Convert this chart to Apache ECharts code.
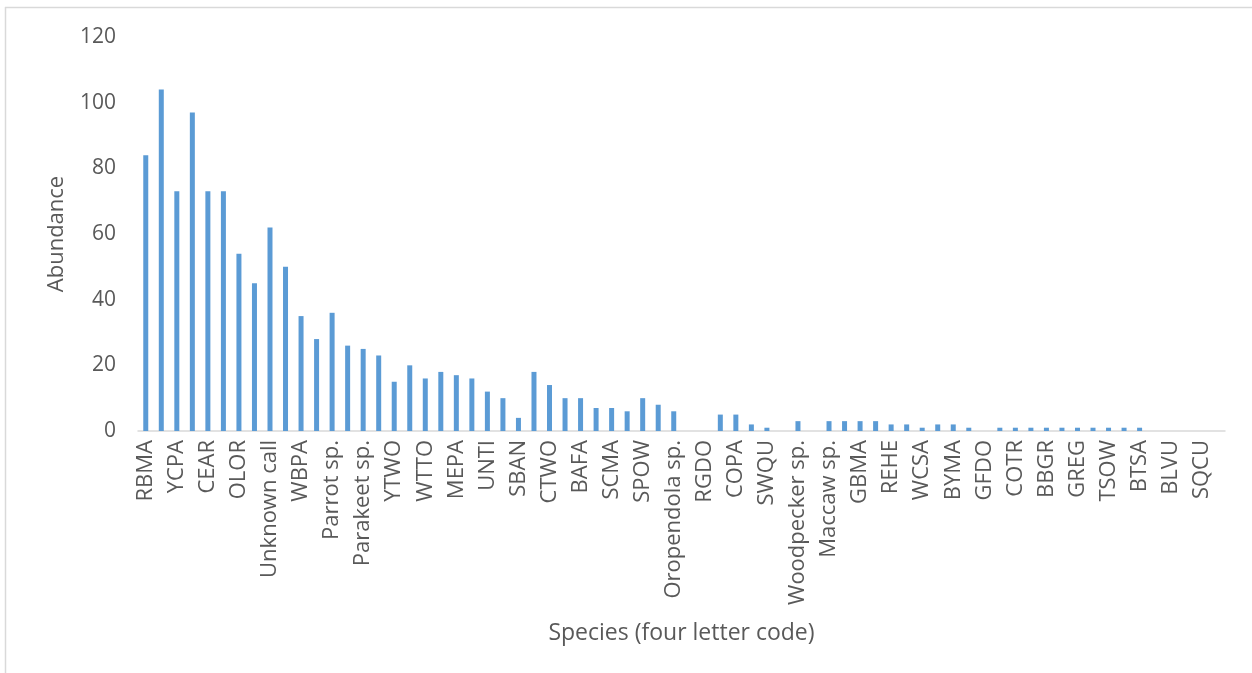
<!DOCTYPE html>
<html>
<head>
<meta charset="utf-8">
<script src="https://cdn.jsdelivr.net/npm/echarts@6/dist/echarts.min.js"></script>
<style>
  html, body { margin: 0; padding: 0; background: #ffffff; }
  #chart { width: 1252px; height: 673px; }
</style>
</head>
<body>
<div id="chart"></div>
<script>
// Labelled species (every other category carries a label in the reference)
const labelledSpecies = [
  "RBMA", "YCPA", "CEAR", "OLOR", "Unknown call", "WBPA", "Parrot sp.",
  "Parakeet sp.", "YTWO", "WTTO", "MEPA", "UNTI", "SBAN", "CTWO", "BAFA",
  "SCMA", "SPOW", "Oropendola sp.", "RGDO", "COPA", "SWQU", "Woodpecker sp.",
  "Maccaw sp.", "GBMA", "REHE", "WCSA", "BYMA", "GFDO", "COTR", "BBGR",
  "GREG", "TSOW", "BTSA", "BLVU", "SQCU"
];

// Abundance for each of the 70 categories
const abundance = [
  84, 104, 73, 97, 73, 73, 54, 45, 62, 50,
  35, 28, 36, 26, 25, 23, 15, 20, 16, 18,
  17, 16, 12, 10, 4, 18, 14, 10, 10, 7,
  7, 6, 10, 8, 6, 0, 0, 5, 5, 2,
  1, 0, 3, 0, 3, 3, 3, 3, 2, 2,
  1, 2, 2, 1, 0, 1, 1, 1, 1, 1,
  1, 1, 1, 1, 1, 0, 0, 0, 0, 0
];

const yTicks = [0, 20, 40, 60, 80, 100, 120];

const categories = abundance.map((v, i) => (i % 2 === 0 ? labelledSpecies[i / 2] : ""));

const FONT = "Open Sans";
const TEXT = "#595959";

const chart = echarts.init(document.getElementById("chart"), null, { renderer: "canvas" });
chart.setOption({
  backgroundColor: "#ffffff",
  animation: false,
  graphic: [
    { type: "line", silent: true, shape: { x1: 5, y1: 7.5, x2: 1252, y2: 7.5 }, style: { stroke: "#d9d9d9", lineWidth: 1.5 } },
    { type: "line", silent: true, shape: { x1: 5.5, y1: 7, x2: 5.5, y2: 673 }, style: { stroke: "#d9d9d9", lineWidth: 1.5 } }
  ],
  grid: { left: 138, right: 27, top: 37, bottom: 242 },
  xAxis: {
    type: "category",
    data: categories,
    boundaryGap: true,
    name: "Species (four letter code)",
    nameLocation: "middle",
    nameGap: 191,
    nameTextStyle: { fontFamily: FONT, fontSize: 23, color: TEXT },
    axisLine: { show: true, lineStyle: { color: "#d9d9d9", width: 1.5 } },
    axisTick: { show: false },
    axisLabel: {
      interval: 1,
      rotate: 90,
      margin: 9,
      fontFamily: FONT,
      fontSize: 22,
      color: TEXT
    },
    splitLine: { show: false }
  },
  yAxis: {
    type: "value",
    min: yTicks[0],
    max: yTicks[yTicks.length - 1],
    interval: yTicks[1] - yTicks[0],
    name: "Abundance",
    nameLocation: "middle",
    nameGap: 70,
    nameRotate: 90,
    nameTextStyle: { fontFamily: FONT, fontSize: 22, color: TEXT },
    axisLine: { show: false },
    axisTick: { show: false },
    splitLine: { show: false },
    axisLabel: { margin: 22, fontFamily: FONT, fontSize: 21, color: TEXT }
  },
  series: [{
    type: "bar",
    data: abundance,
    barWidth: 5,
    itemStyle: { color: "#5b9bd5" }
  }]
});
</script>
</body>
</html>
